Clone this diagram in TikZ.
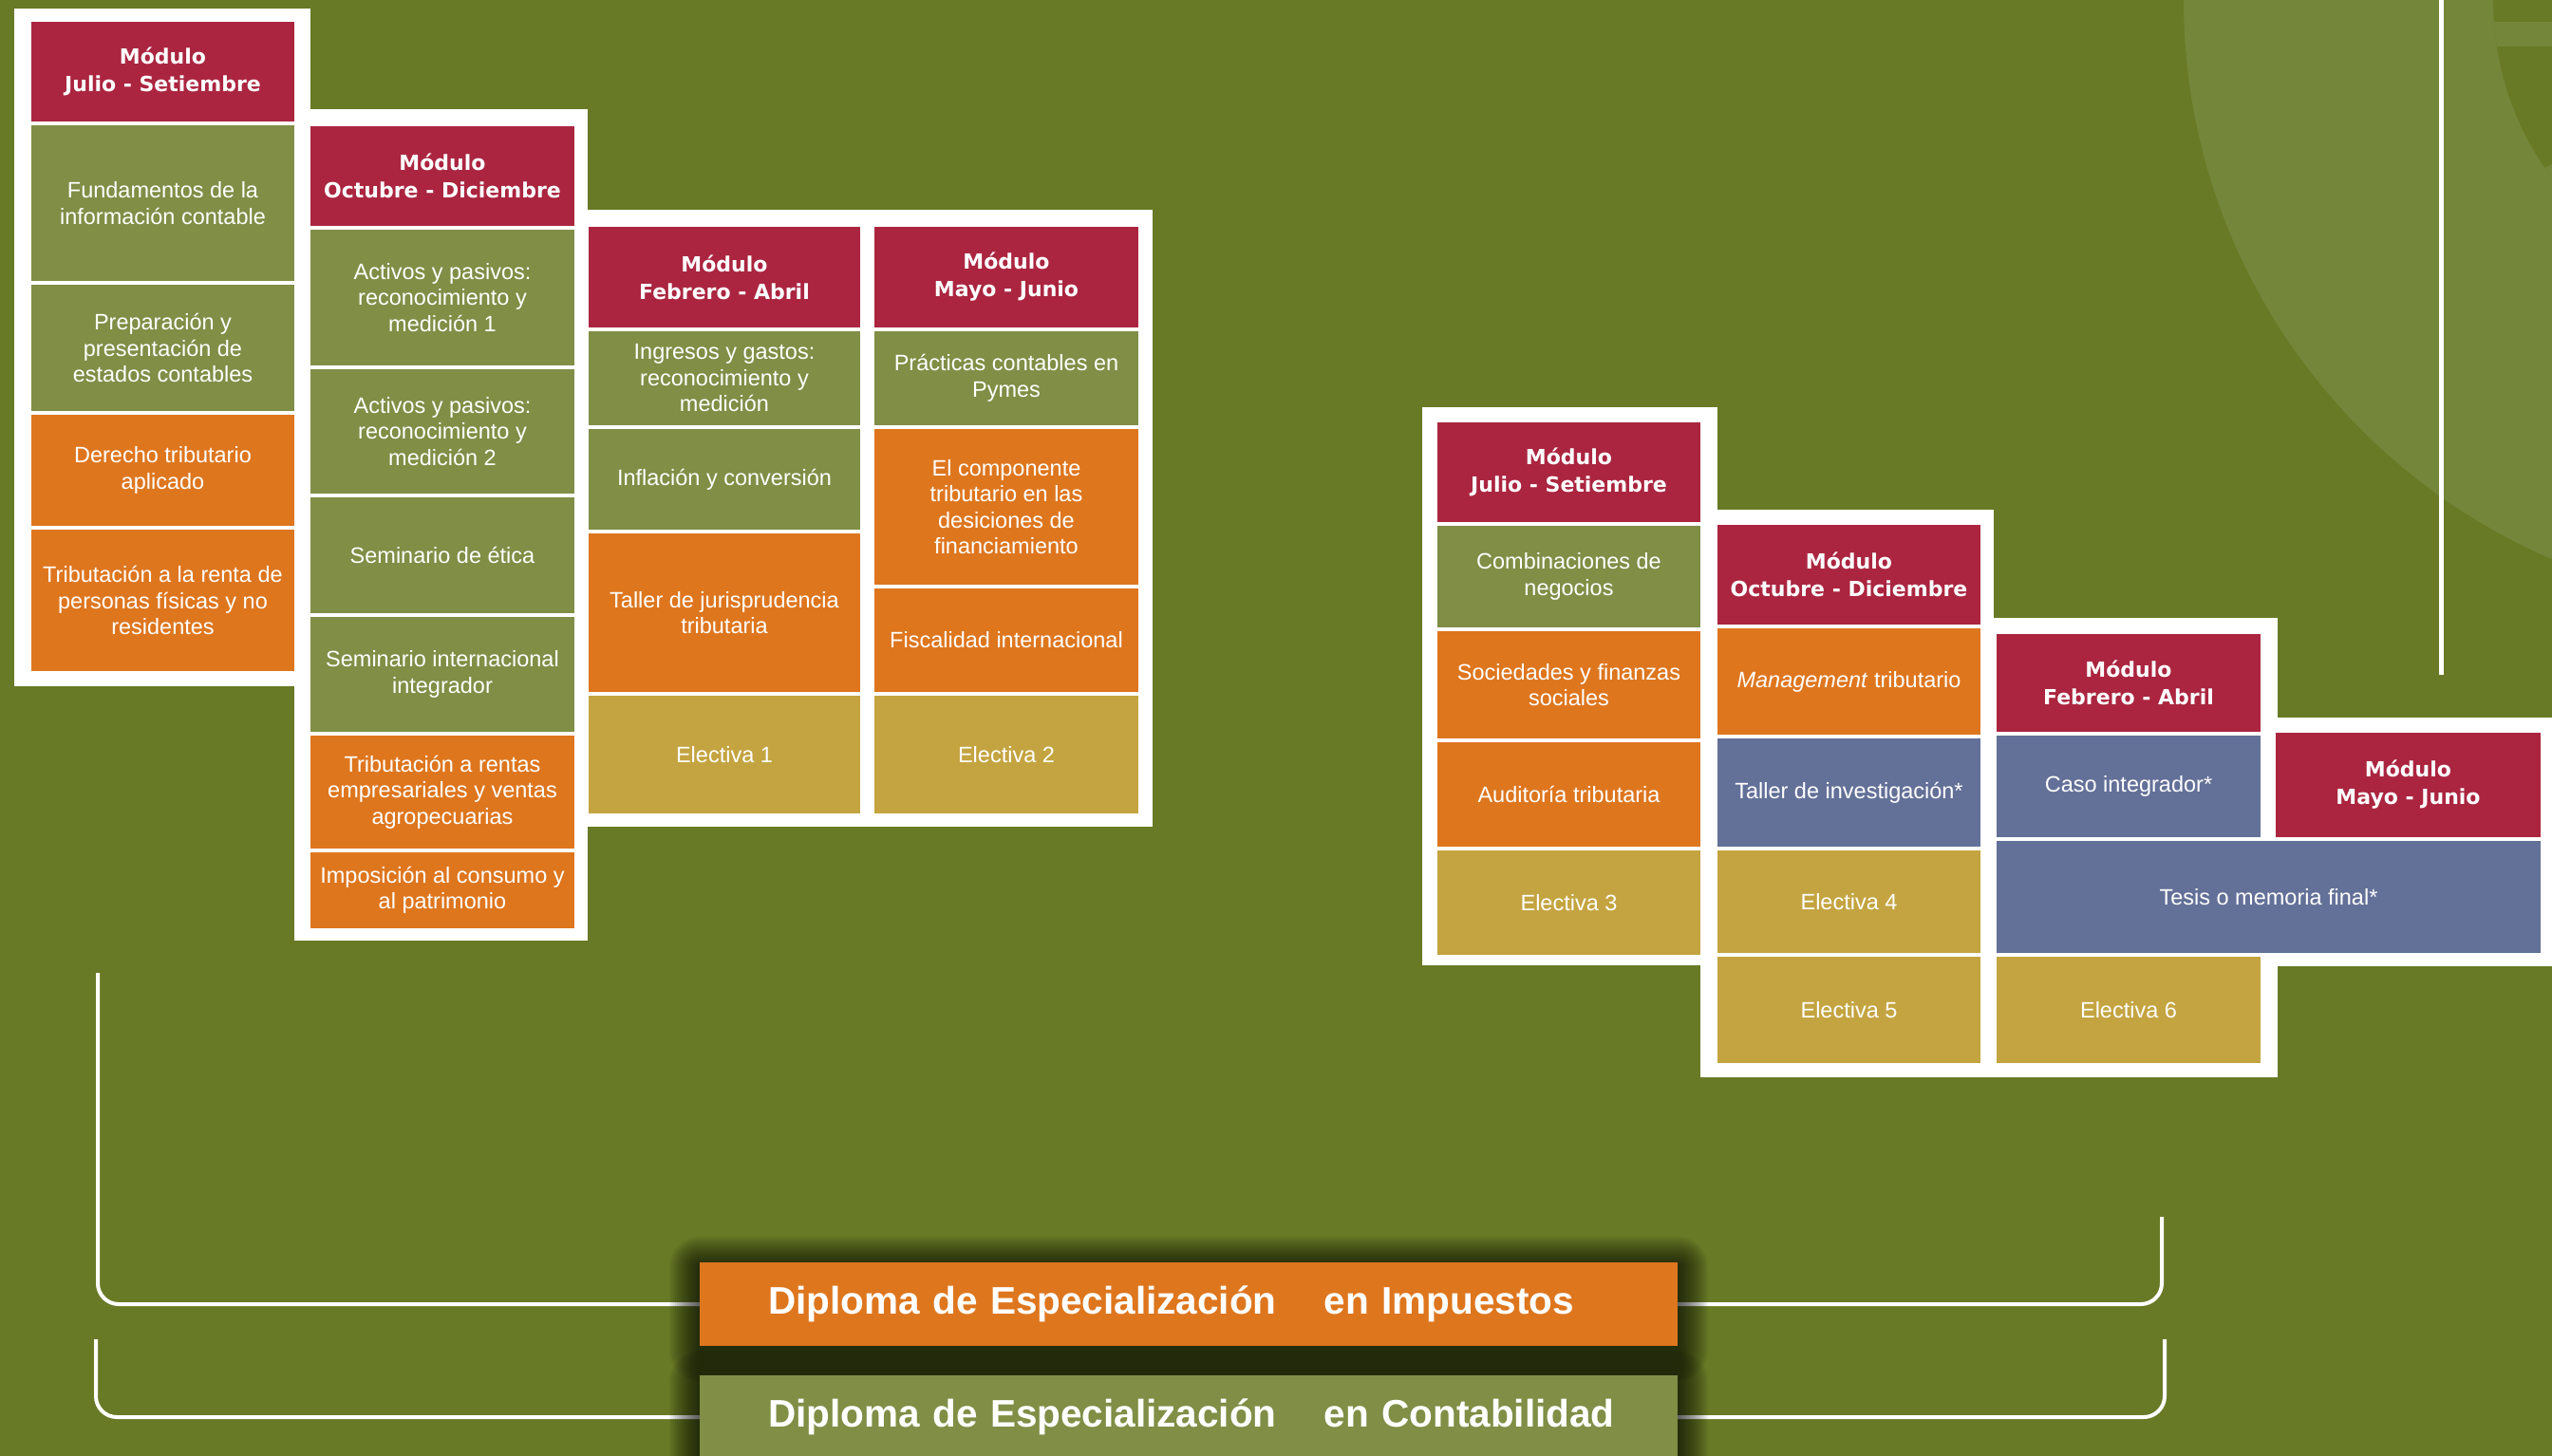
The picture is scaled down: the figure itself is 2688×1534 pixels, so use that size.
\documentclass[tikz,border=0pt]{standalone}
\usepackage{fontspec}
\setmainfont{Liberation Sans}
\newfontfamily\hdfont{DejaVu Sans}
\usetikzlibrary{calc}
\pgfdeclarelayer{bg}
\pgfdeclarelayer{deco}
\pgfsetlayers{bg,deco,main}
\definecolor{bgolive}{RGB}{104,122,37}
\definecolor{lightcirc}{RGB}{116,134,58}
\definecolor{cgreen}{RGB}{128,142,70}
\definecolor{hdred}{RGB}{171,37,64}
\definecolor{corange}{RGB}{222,118,30}
\definecolor{cgold}{RGB}{196,164,64}
\definecolor{cblue}{RGB}{99,112,152}
\tikzset{
  cellbox/.style={rectangle, inner sep=0pt, outer sep=0pt, text=white, align=center,
    font=\fontsize{23.5}{27.5}\selectfont},
  gr/.style={cellbox, fill=cgreen},
  og/.style={cellbox, fill=corange},
  gd/.style={cellbox, fill=cgold},
  bl/.style={cellbox, fill=cblue},
  hd/.style={cellbox, fill=hdred, font=\hdfont\bfseries\fontsize{22}{29}\selectfont},
  whiteframe/.style={fill=white},
  dipbox/.style={rectangle, outer sep=0pt, inner xsep=0pt, inner ysep=0pt,
    minimum width=1030pt, minimum height=88pt, text width=1030pt, align=left,
    text=white, font=\bfseries\fontsize{40.5}{44}\selectfont},
  bracket/.style={draw=white, line width=4pt, rounded corners=22pt},
}
\newcommand\cellnode[7]{%
  \node[#6, minimum width={#4pt-#2pt}, minimum height={#5pt-#3pt}] (#1)
    at ({(#2+#4)/2},{(#3+#5)/2+1}) {#7};}
\begin{document}
\begin{tikzpicture}[x=1pt,y=-1pt]
\useasboundingbox (0,0) rectangle (2688,1534);
\begin{pgfonlayer}{bg}
  \fill[bgolive] (0,0) rectangle (2688,1534);
  \fill[lightcirc] (2941,0) circle[radius=641pt];
  \begin{scope}
    \clip (2941,0) circle[radius=315pt];
    \fill[bgolive] (2941,0) circle[radius=315pt];
    \fill[lightcirc] (2600,23) rectangle (2700,49);
    \draw[lightcirc, line width=25pt] (2600,228) -- (2720,172);
  \end{scope}
  \draw[white, line width=5pt] (2571.5,0) -- (2571.5,711);
\end{pgfonlayer}

% white frames
\fill[whiteframe] (15,9) rectangle (327,723);
\fill[whiteframe] (310,115) rectangle (619,991);
\fill[whiteframe] (619,221) rectangle (1214,871);
\fill[whiteframe] (1498,429) rectangle (1809,1017);
\fill[whiteframe] (1791,537) rectangle (2100,1135);
\fill[whiteframe] (2086,651) rectangle (2399,1135);
\fill[whiteframe] (2381,756) rectangle (2688,1018);

% Column A
\cellnode{hA}{33}{22}{310}{127}{hd}{Módulo\\Julio - Setiembre}
\cellnode{a1}{33}{131}{310}{295}{gr}{Fundamentos de la\\información contable}
\cellnode{a2}{33}{299}{310}{432}{gr}{Preparación y\\presentación de\\estados contables}
\cellnode{a3}{33}{436}{310}{553}{og}{Derecho tributario\\aplicado}
\cellnode{a4}{33}{557}{310}{706}{og}{Tributación a la renta de\\personas físicas y no\\residentes}
% Column B
\cellnode{hB}{327}{132}{605}{237}{hd}{Módulo\\Octubre - Diciembre}
\cellnode{b1}{327}{241}{605}{384}{gr}{Activos y pasivos:\\reconocimiento y\\medición 1}
\cellnode{b2}{327}{388}{605}{519}{gr}{Activos y pasivos:\\reconocimiento y\\medición 2}
\cellnode{b3}{327}{523}{605}{645}{gr}{Seminario de ética}
\cellnode{b4}{327}{649}{605}{770}{gr}{Seminario internacional\\integrador}
\cellnode{b5}{327}{774}{605}{893}{og}{Tributación a rentas\\empresariales y ventas\\agropecuarias}
\cellnode{b6}{327}{897}{605}{977}{og}{Imposición al consumo y\\al patrimonio}
% Column C
\cellnode{hC}{620}{238}{906}{344}{hd}{Módulo\\Febrero - Abril}
\cellnode{c1}{620}{348}{906}{447}{gr}{Ingresos y gastos:\\reconocimiento y\\medición}
\cellnode{c2}{620}{451}{906}{557}{gr}{Inflación y conversión}
\cellnode{c3}{620}{561}{906}{728}{og}{Taller de jurisprudencia\\tributaria}
\cellnode{c4}{620}{732}{906}{856}{gd}{Electiva 1}
% Column D
\cellnode{hD}{921}{238}{1199}{344}{hd}{Módulo\\Mayo - Junio}
\cellnode{d1}{921}{348}{1199}{447}{gr}{Prácticas contables en\\Pymes}
\cellnode{d2}{921}{451}{1199}{615}{og}{El componente\\tributario en las\\desiciones de\\financiamiento}
\cellnode{d3}{921}{619}{1199}{728}{og}{Fiscalidad internacional}
\cellnode{d4}{921}{732}{1199}{856}{gd}{Electiva 2}
% Column E
\cellnode{hE}{1514}{444}{1791}{549}{hd}{Módulo\\Julio - Setiembre}
\cellnode{e1}{1514}{553}{1791}{660}{gr}{Combinaciones de\\negocios}
\cellnode{e2}{1514}{664}{1791}{777}{og}{Sociedades y finanzas\\sociales}
\cellnode{e3}{1514}{781}{1791}{891}{og}{Auditoría tributaria}
\cellnode{e4}{1514}{895}{1791}{1005}{gd}{Electiva 3}
% Column F
\cellnode{hF}{1809}{552}{2086}{657}{hd}{Módulo\\Octubre - Diciembre}
\cellnode{f1}{1809}{661}{2086}{773}{og}{\textit{Management} tributario}
\cellnode{f2}{1809}{777}{2086}{891}{bl}{Taller de investigación*}
\cellnode{f3}{1809}{895}{2086}{1003}{gd}{Electiva 4}
\cellnode{f4}{1809}{1007}{2086}{1119}{gd}{Electiva 5}
% Column G / H
\cellnode{hG}{2103}{667}{2381}{770}{hd}{Módulo\\Febrero - Abril}
\cellnode{g1}{2103}{774}{2381}{881}{bl}{Caso integrador*}
\cellnode{tesis}{2103}{885}{2676}{1003}{bl}{Tesis o memoria final*}
\cellnode{g3}{2103}{1007}{2381}{1119}{gd}{Electiva 6}
\cellnode{hH}{2397}{771}{2676}{881}{hd}{Módulo\\Mayo - Junio}

% Diploma boxes
\node[dipbox, fill=corange] (dip1) at (1252,1374) {\hspace*{72pt}Diploma de Especialización\hspace{50pt}en Impuestos};
\node[dipbox, fill=cgreen] (dip2) at (1252,1493) {\hspace*{72pt}Diploma de Especialización\hspace{50pt}en Contabilidad};

\coordinate (bl1) at (103,1025);
\coordinate (br1) at (2277,1282);
\coordinate (bl2) at (101,1411);
\coordinate (br2) at (2280,1411);

\begin{pgfonlayer}{deco}
  \draw[bracket] (bl1) |- (dip1.west);
  \draw[bracket] (dip1.east) -| (br1);
  \draw[bracket] (bl2) |- (dip2.west);
  \draw[bracket] (dip2.east) -| (br2);
  \foreach \k in {2,4,...,32} {
    \fill[black, opacity=0.055, rounded corners=\k pt] (737-\k,1330-\k+5) rectangle (1767+\k,1418+\k+5);
    \fill[black, opacity=0.055, rounded corners=\k pt] (737-\k,1450-\k+5) rectangle (1767+\k,1560+\k);
  }
\end{pgfonlayer}
\end{tikzpicture}
\end{document}
